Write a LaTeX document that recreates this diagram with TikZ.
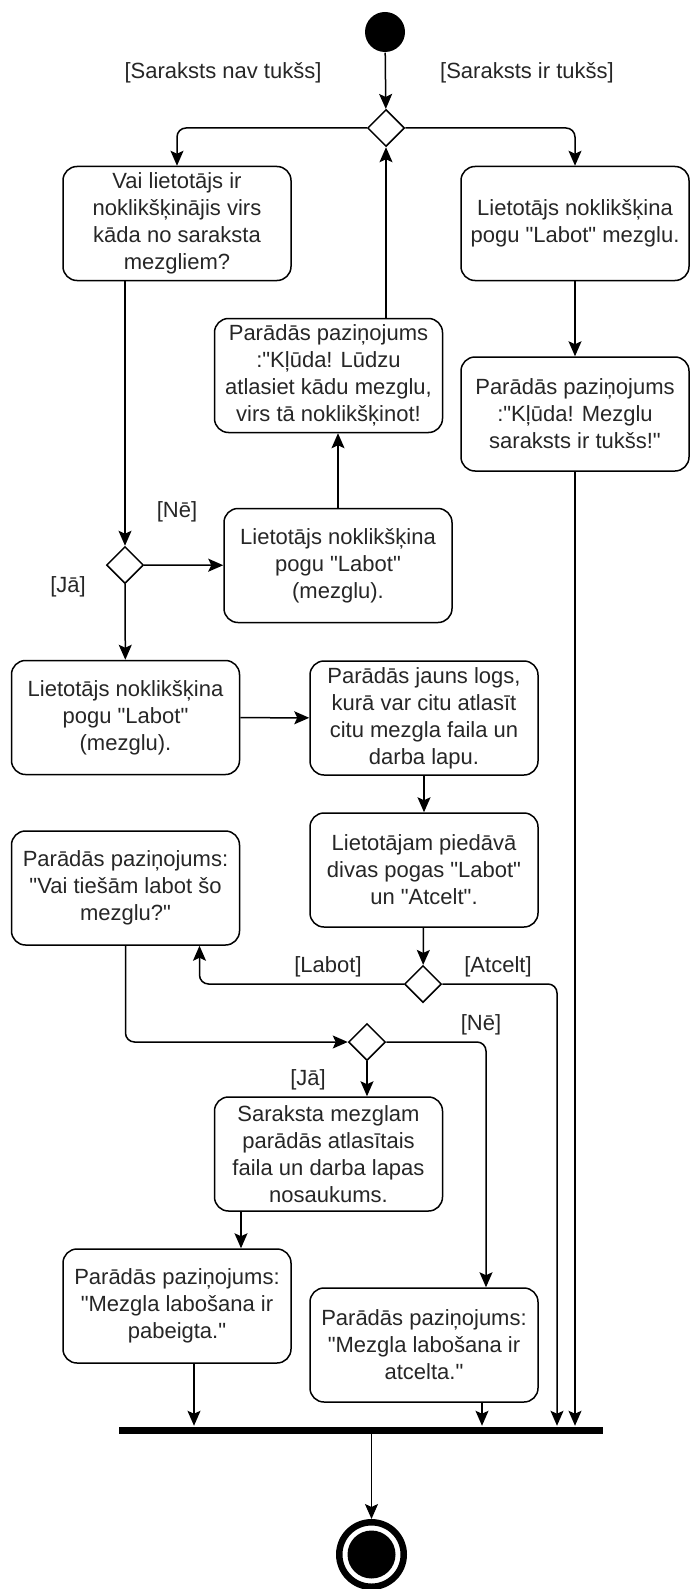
\documentclass[tikz,border=0pt]{standalone}
\usepackage{fontspec}
\setmainfont{Liberation Sans}[Ligatures=TeXOff]
\usetikzlibrary{shapes.geometric,arrows.meta}

\begin{document}
\begin{tikzpicture}[x=1pt,y=-1pt,->,>={Stealth[length=15pt,width=13pt,inset=3pt]},line width=1.5pt,
    action node/.style={draw,rounded corners=14pt,minimum width=228pt,minimum height=114pt,align=center,inner sep=2pt,text=black!85,font=\fontsize{22}{27}\selectfont},
    decision node/.style={diamond,draw,fill=white,minimum width=37pt,minimum height=37pt,inner sep=0pt},
    guard/.style={text=black!85,font=\fontsize{22}{27}\selectfont},
    start node/.style={circle,fill=black,minimum size=40pt,inner sep=0pt},
    end node/.style={circle,draw,line width=6.5pt,fill=white,minimum size=64.5pt,inner sep=0pt},
    bar node/.style={fill=black,minimum width=484pt,minimum height=7pt,inner sep=0pt},
    flow/.style={rounded corners=9pt}]
            \useasboundingbox (0,0) rectangle (690,1589);

            \node[start node] (0) at (385,32) {};
            \node[decision node] (1) at (386,128) {};
            \node[action node] (2) at (177,223.5) {Vai lietotājs ir\\noklikšķinājis virs\\kāda no saraksta\\mezgliem?};
            \node[action node] (3) at (575,223.5) {Lietotājs noklikšķina\\pogu "Labot" mezglu.};
            \node[action node] (4) at (328.5,375.5) {Parādās paziņojums\\:"Kļūda! Lūdzu\\atlasiet kādu mezglu,\\virs tā noklikšķinot!};
            \node[action node] (5) at (575,414) {Parādās paziņojums\\:"Kļūda! Mezglu\\saraksts ir tukšs!"};
            \node[decision node] (6) at (125,565) {};
            \node[action node] (7) at (338,565.5) {Lietotājs noklikšķina\\pogu "Labot"\\(mezglu).};
            \node[action node] (8) at (125.5,717.5) {Lietotājs noklikšķina\\pogu "Labot"\\(mezglu).};
            \node[action node] (9) at (424,718) {Parādās jauns logs,\\kurā var citu atlasīt\\citu mezgla faila un\\darba lapu.};
            \node[action node] (10) at (424,870) {Lietotājam piedāvā\\divas pogas "Labot"\\un "Atcelt".};
            \node[action node] (11) at (125.5,888) {Parādās paziņojums:\\"Vai tiešām labot šo\\mezglu?"};
            \node[decision node] (12) at (423,984) {};
            \node[decision node] (13) at (367,1042) {};
            \node[action node] (14) at (328.5,1154) {Saraksta mezglam\\parādās atlasītais\\faila un darba lapas\\nosaukums.};
            \node[action node] (15) at (177,1306) {Parādās paziņojums:\\"Mezgla labošana ir\\pabeigta."};
            \node[action node] (16) at (424,1345) {Parādās paziņojums:\\"Mezgla labošana ir\\atcelta."};
            \node[bar node] (17) at (361,1430) {};
            \node[end node] (18) at (371.5,1554.5) {};
            \fill (18.center) circle (24pt);

            % guards
            \node[guard] (g1) at (223,73) {[Saraksts nav tukšs]};
            \node[guard] (g2) at (527,73) {[Saraksts ir tukšs]};
            \node[guard] (g3) at (177,512) {[Nē]};
            \node[guard] (g4) at (68,587) {[Jā]};
            \node[guard] (g5) at (328,967) {[Labot]};
            \node[guard] (g6) at (498,967) {[Atcelt]};
            \node[guard] (g7) at (481,1025) {[Nē]};
            \node[guard] (g8) at (308,1080) {[Jā]};

            \path
                (0) edge (1)
                (6) edge (7)
                (6) edge (8)
                (8) edge (9)
                (9) edge (10)
                (10) edge (12)
                ;

            \draw[flow] (1.west) -| (2.north);
            \draw[flow] (1.east) -| (3.north);
            \draw (3.south) -- (5.north);
            \draw (4.north -| 1.south) -- (1.south);
            \draw (7.north) -- (7.north |- 4.south);
            \draw (2.south -| 6.north) -- (6.north);
            \draw[flow] (12.west) -| ([xshift=74pt]11.south);
            \draw[flow] (11.south) |- (13.west);
            \draw (13.south) -- (13.south |- 14.north);
            \draw[flow] (13.east) -| ([xshift=62pt]16.north);
            \draw ([xshift=-87.5pt]14.south) -- ([xshift=64pt]15.north);

            % into the bar
            \draw[flow] (12.east) -| ([xshift=196pt]17.north);
            \draw (5.south) -- (5.south |- 17.north);
            \draw ([xshift=17pt]15.south) -- ([xshift=17pt]15.south |- 17.north);
            \draw ([xshift=58pt]16.south) -- ([xshift=58pt]16.south |- 17.north);
            \draw (18.north |- 17.south) -- (18.north);
        \end{tikzpicture}
\end{document}
